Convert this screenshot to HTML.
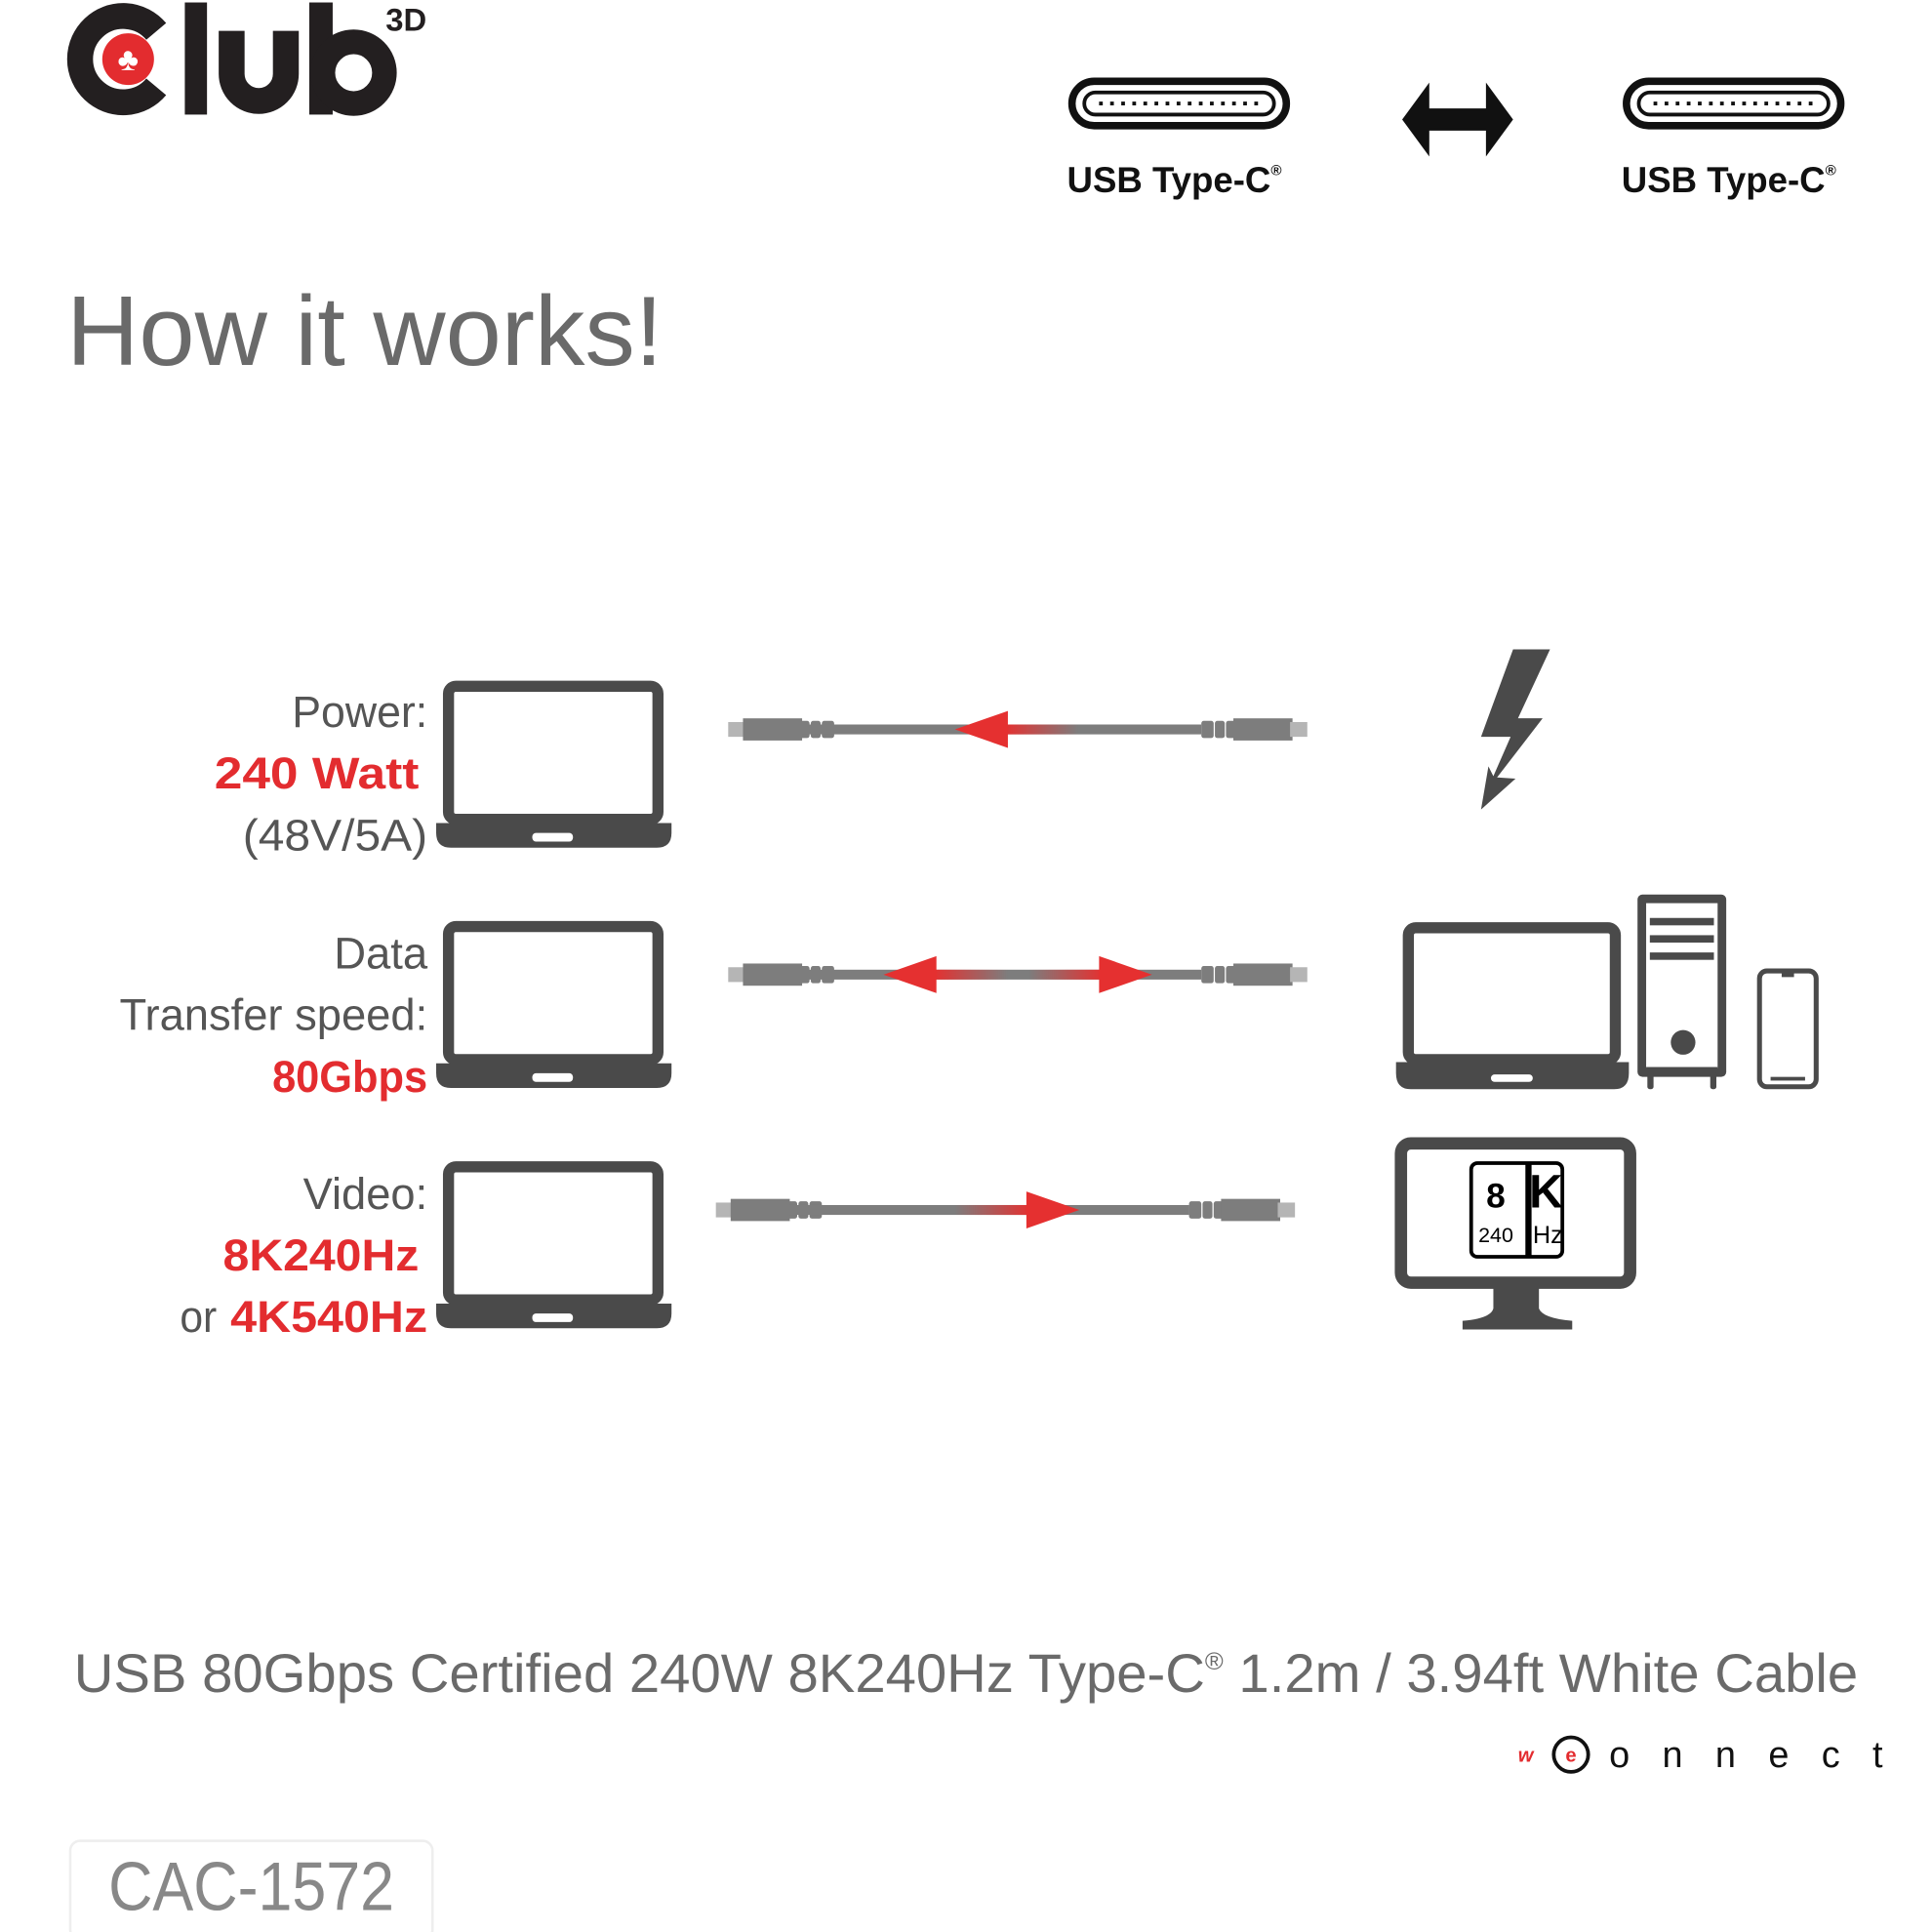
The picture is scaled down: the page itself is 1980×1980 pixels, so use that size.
<!DOCTYPE html>
<html><head><meta charset="utf-8"><style>
html,body{margin:0;padding:0;background:#fff;width:1980px;height:1980px;overflow:hidden}
svg{display:block}
text{font-family:"Liberation Sans",sans-serif}
</style></head><body>
<svg width="1980" height="1980" viewBox="0 0 1568 1568" xmlns="http://www.w3.org/2000/svg">
<defs>
<linearGradient id="gl" x1="0" x2="1"><stop offset="0" stop-color="#e53030"/><stop offset="1" stop-color="#e53030" stop-opacity="0"/></linearGradient>
<linearGradient id="gr" x1="1" x2="0"><stop offset="0" stop-color="#e53030"/><stop offset="1" stop-color="#e53030" stop-opacity="0"/></linearGradient>
<g id="laptop">
<rect x="364" y="557" width="170" height="108" rx="6" fill="none" stroke="#4a4a4a" stroke-width="9"/>
<path d="M354 668 H545 V676 Q545 688 533 688 H366 Q354 688 354 676 Z" fill="#4a4a4a"/>
<rect x="432" y="676" width="33" height="7" rx="3" fill="#fff"/>
</g>
<g id="cable">
<rect x="0" y="-6" width="14" height="12" fill="#b5b5b5"/>
<rect x="12" y="-9" width="48" height="18" fill="#7d7d7d"/>
<rect x="58" y="-7" width="8" height="14" rx="2" fill="#7d7d7d"/>
<rect x="67" y="-7" width="8" height="14" rx="2" fill="#7d7d7d"/>
<rect x="76" y="-7" width="10" height="14" rx="2" fill="#7d7d7d"/>
<rect x="60" y="-4" width="324" height="8" fill="#7d7d7d"/>
<rect x="384" y="-7" width="10" height="14" rx="2" fill="#7d7d7d"/>
<rect x="395" y="-7" width="8" height="14" rx="2" fill="#7d7d7d"/>
<rect x="404" y="-7" width="8" height="14" rx="2" fill="#7d7d7d"/>
<rect x="410" y="-9" width="48" height="18" fill="#7d7d7d"/>
<rect x="456" y="-6" width="14" height="12" fill="#b5b5b5"/>
</g>
</defs>
<!-- logo -->
<path d="M126.8 25.5 A35 35 0 1 0 126.8 70.5" fill="none" stroke="#231f20" stroke-width="21"/>
<circle cx="104" cy="48" r="21" fill="#e32c2f"/>
<text x="104" y="57" font-size="26" fill="#fff" text-anchor="middle">♣</text>
<rect x="150" y="2" width="18" height="91" fill="#231f20"/>
<path d="M188 25 V60 A22 22 0 0 0 232 60 V25" fill="none" stroke="#231f20" stroke-width="21"/>
<rect x="251" y="2" width="19" height="91" fill="#231f20"/>
<circle cx="287" cy="59" r="25" fill="none" stroke="#231f20" stroke-width="20"/>
<text x="313" y="25" font-size="26" font-weight="bold" fill="#231f20">3D</text>
<!-- USB -->
<g fill="none" stroke="#111">
<rect x="870" y="66" width="174" height="36" rx="18" stroke-width="6"/>
<rect x="880" y="75" width="154" height="18" rx="9" stroke-width="3"/>
<line x1="892" y1="84" x2="1022" y2="84" stroke-width="3" stroke-dasharray="3 6"/>
<rect x="1320" y="66" width="174" height="36" rx="18" stroke-width="6"/>
<rect x="1330" y="75" width="154" height="18" rx="9" stroke-width="3"/>
<line x1="1342" y1="84" x2="1472" y2="84" stroke-width="3" stroke-dasharray="3 6"/>
</g>
<path d="M1138 97 L1160 67 V88 H1206 V67 L1228 97 L1206 127 V106 H1160 V127 Z" fill="#111"/>
<text x="866" y="156" font-size="29" font-weight="bold" fill="#111">USB Type-C<tspan font-size="12" dy="-14">®</tspan></text>
<text x="1316" y="156" font-size="29" font-weight="bold" fill="#111">USB Type-C<tspan font-size="12" dy="-14">®</tspan></text>
<text x="54" y="296" font-size="80" fill="#6a6a6a" textLength="484" lengthAdjust="spacingAndGlyphs">How it works!</text>
<!-- row labels -->
<g font-size="36" fill="#555">
<text x="237" y="590" textLength="110" lengthAdjust="spacingAndGlyphs">Power:</text>
<text x="174" y="640" font-weight="bold" fill="#e32c2f" textLength="166" lengthAdjust="spacingAndGlyphs">240 Watt</text>
<text x="197" y="690" textLength="150" lengthAdjust="spacingAndGlyphs">(48V/5A)</text>
<text x="271" y="786" textLength="76" lengthAdjust="spacingAndGlyphs">Data</text>
<text x="97" y="836" textLength="250" lengthAdjust="spacingAndGlyphs">Transfer speed:</text>
<text x="221" y="886" font-weight="bold" fill="#e32c2f" textLength="126" lengthAdjust="spacingAndGlyphs">80Gbps</text>
<text x="246" y="981" textLength="101" lengthAdjust="spacingAndGlyphs">Video:</text>
<text x="181" y="1031" font-weight="bold" fill="#e32c2f" textLength="159" lengthAdjust="spacingAndGlyphs">8K240Hz</text>
<text x="146" y="1081" textLength="30" lengthAdjust="spacingAndGlyphs">or</text>
<text x="187" y="1081" font-weight="bold" fill="#e32c2f" textLength="160" lengthAdjust="spacingAndGlyphs">4K540Hz</text>
</g>
<use href="#laptop"/>
<use href="#laptop" y="195"/>
<use href="#laptop" y="390"/>
<!-- cables -->
<use href="#cable" transform="translate(591,592)"/>
<use href="#cable" transform="translate(591,791)"/>
<use href="#cable" transform="translate(581,982)"/>
<rect x="815" y="588" width="60" height="8" fill="url(#gl)"/>
<path d="M775 592 L818 577 V607 Z" fill="#e53030"/>
<rect x="758" y="787" width="60" height="8" fill="url(#gl)"/>
<path d="M717 791 L760 776 V806 Z" fill="#e53030"/>
<rect x="835" y="787" width="60" height="8" fill="url(#gr)"/>
<path d="M935 791 L892 776 V806 Z" fill="#e53030"/>
<rect x="775" y="978" width="62" height="8" fill="url(#gr)"/>
<path d="M876 982 L833 967 V997 Z" fill="#e53030"/>
<!-- bolt -->
<path d="M1228 527 H1258 L1232 583 H1252 L1215 631 L1230 632 L1202 657 L1208 622 L1212 630 L1226 598 H1202 Z" fill="#4a4a4a"/>
<!-- right devices -->
<rect x="1143" y="753" width="168" height="107" rx="6" fill="none" stroke="#4a4a4a" stroke-width="9"/>
<path d="M1133 862 H1322 V871 Q1322 884 1310 884 H1145 Q1133 884 1133 871 Z" fill="#4a4a4a"/>
<rect x="1210" y="872" width="34" height="6" rx="3" fill="#fff"/>
<rect x="1329" y="726" width="72" height="148" rx="4" fill="#4a4a4a"/>
<rect x="1336" y="733" width="58" height="134" fill="#fff"/>
<rect x="1339" y="745" width="52" height="6" fill="#4a4a4a"/>
<rect x="1339" y="759" width="52" height="6" fill="#4a4a4a"/>
<rect x="1339" y="773" width="52" height="6" fill="#4a4a4a"/>
<circle cx="1366" cy="846" r="10" fill="#4a4a4a"/>
<rect x="1336" y="866" width="58" height="6" fill="#4a4a4a"/>
<rect x="1337" y="870" width="5" height="14" rx="2" fill="#4a4a4a"/>
<rect x="1388" y="870" width="5" height="14" rx="2" fill="#4a4a4a"/>
<rect x="1428" y="788" width="46" height="94" rx="6" fill="none" stroke="#4a4a4a" stroke-width="4"/>
<rect x="1446" y="789" width="10" height="4" fill="#4a4a4a"/>
<rect x="1437" y="874" width="28" height="3" fill="#4a4a4a"/>
<!-- monitor -->
<rect x="1137" y="928" width="186" height="113" rx="8" fill="none" stroke="#4a4a4a" stroke-width="10"/>
<path d="M1212 1041 H1249 V1062 Q1252 1070 1276 1072 V1079 H1187 V1072 Q1210 1070 1212 1062 Z" fill="#4a4a4a"/>
<rect x="1194" y="944" width="74" height="76" rx="5" fill="#fff" stroke="#000" stroke-width="3"/>
<rect x="1238" y="944" width="5" height="76" fill="#000"/>
<text x="1214" y="980" font-size="28" font-weight="bold" text-anchor="middle">8</text>
<text x="1214" y="1008" font-size="17" text-anchor="middle">240</text>
<text x="1241" y="980" font-size="38" font-weight="bold">K</text>
<text x="1244" y="1009" font-size="20">Hz</text>
<!-- footer -->
<text x="60" y="1373" font-size="44" fill="#6a6a6a" textLength="1448" lengthAdjust="spacingAndGlyphs">USB 80Gbps Certified 240W 8K240Hz Type-C<tspan font-size="20" dy="-18">®</tspan><tspan dy="18"> 1.2m / 3.94ft White Cable</tspan></text>
<text x="1232" y="1430" font-size="16" font-weight="bold" font-style="italic" fill="#e32c2f">w</text>
<circle cx="1275" cy="1424" r="14" fill="none" stroke="#111" stroke-width="3"/>
<text x="1275" y="1430" font-size="16" font-weight="bold" fill="#e32c2f" text-anchor="middle">e</text>
<text x="1306" y="1434" font-size="30" fill="#111" textLength="222" lengthAdjust="spacing">onnect</text>
<rect x="57" y="1494" width="294" height="80" rx="8" fill="#fff" stroke="#eee" stroke-width="2"/>
<text x="88" y="1550" font-size="56" fill="#888" textLength="232" lengthAdjust="spacingAndGlyphs">CAC-1572</text>
</svg>
</body></html>
